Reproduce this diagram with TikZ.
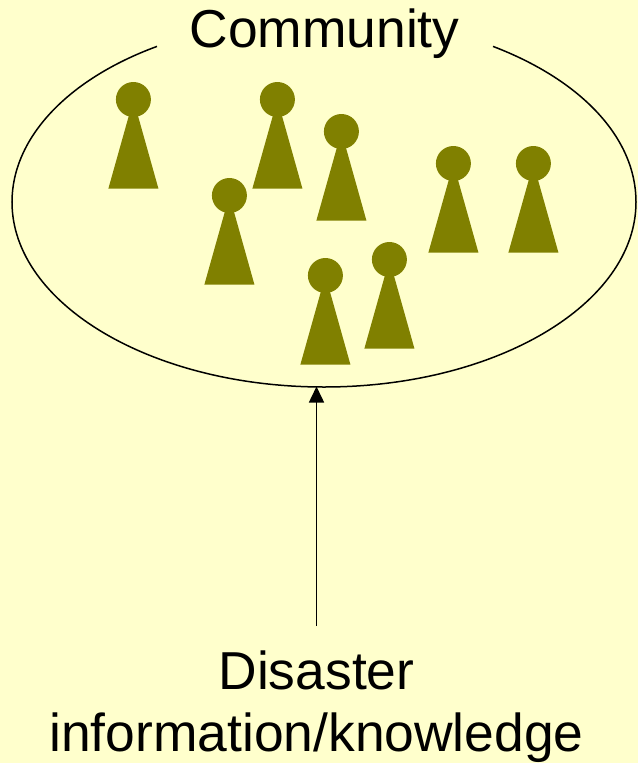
\documentclass[tikz,border=0pt]{standalone}
\usepackage{fontspec}
\setmainfont{Liberation Sans}
\usetikzlibrary{arrows.meta}
\definecolor{bg}{HTML}{FFFFCC}
\definecolor{pawn}{HTML}{808000}
\tikzset{x=1pt,y=-1pt,
 lbl/.style={font=\fontsize{53.4}{62}\selectfont,text=black,inner sep=0pt,align=center},
 pawnfill/.style={fill=pawn,draw=none}}
\newcommand{\pawnat}[2]{%
 \fill[pawnfill] (#1-25,#2+89) -- (#1,#2) -- (#1+25,#2+89) -- cycle;
 \fill[pawnfill] (#1,#2) circle[radius=17.5];}
\begin{document}
\begin{tikzpicture}
\useasboundingbox[fill=bg] (0,0) rectangle (638,763);
\draw[black,line width=1.5] (157,46.4) .. controls (66.9,79.5) and (12,138.5) .. (12,202) .. controls (12,304) and (152,387) .. (324,387) .. controls (496,387) and (636,304) .. (636,202) .. controls (636,138.5) and (582.3,80.5) .. (493,46.4);
\pawnat{133.4}{99.5}
\pawnat{277.4}{99.5}
\pawnat{341.4}{131.5}
\pawnat{229.4}{195.5}
\pawnat{453.4}{163.5}
\pawnat{533.4}{163.5}
\pawnat{325.4}{275.5}
\pawnat{389.4}{259.5}
\node[lbl] (title) at (324.5,34) {Community};
\node[lbl] (info) at (316.5,707) {Disaster\\information/knowledge};
\coordinate (top) at (316.5,386.5);
\coordinate (start) at (316.5,626);
\draw[black,line width=1.5,-{Triangle[length=16,width=15]}] (start) -- (top);
\end{tikzpicture}
\end{document}
